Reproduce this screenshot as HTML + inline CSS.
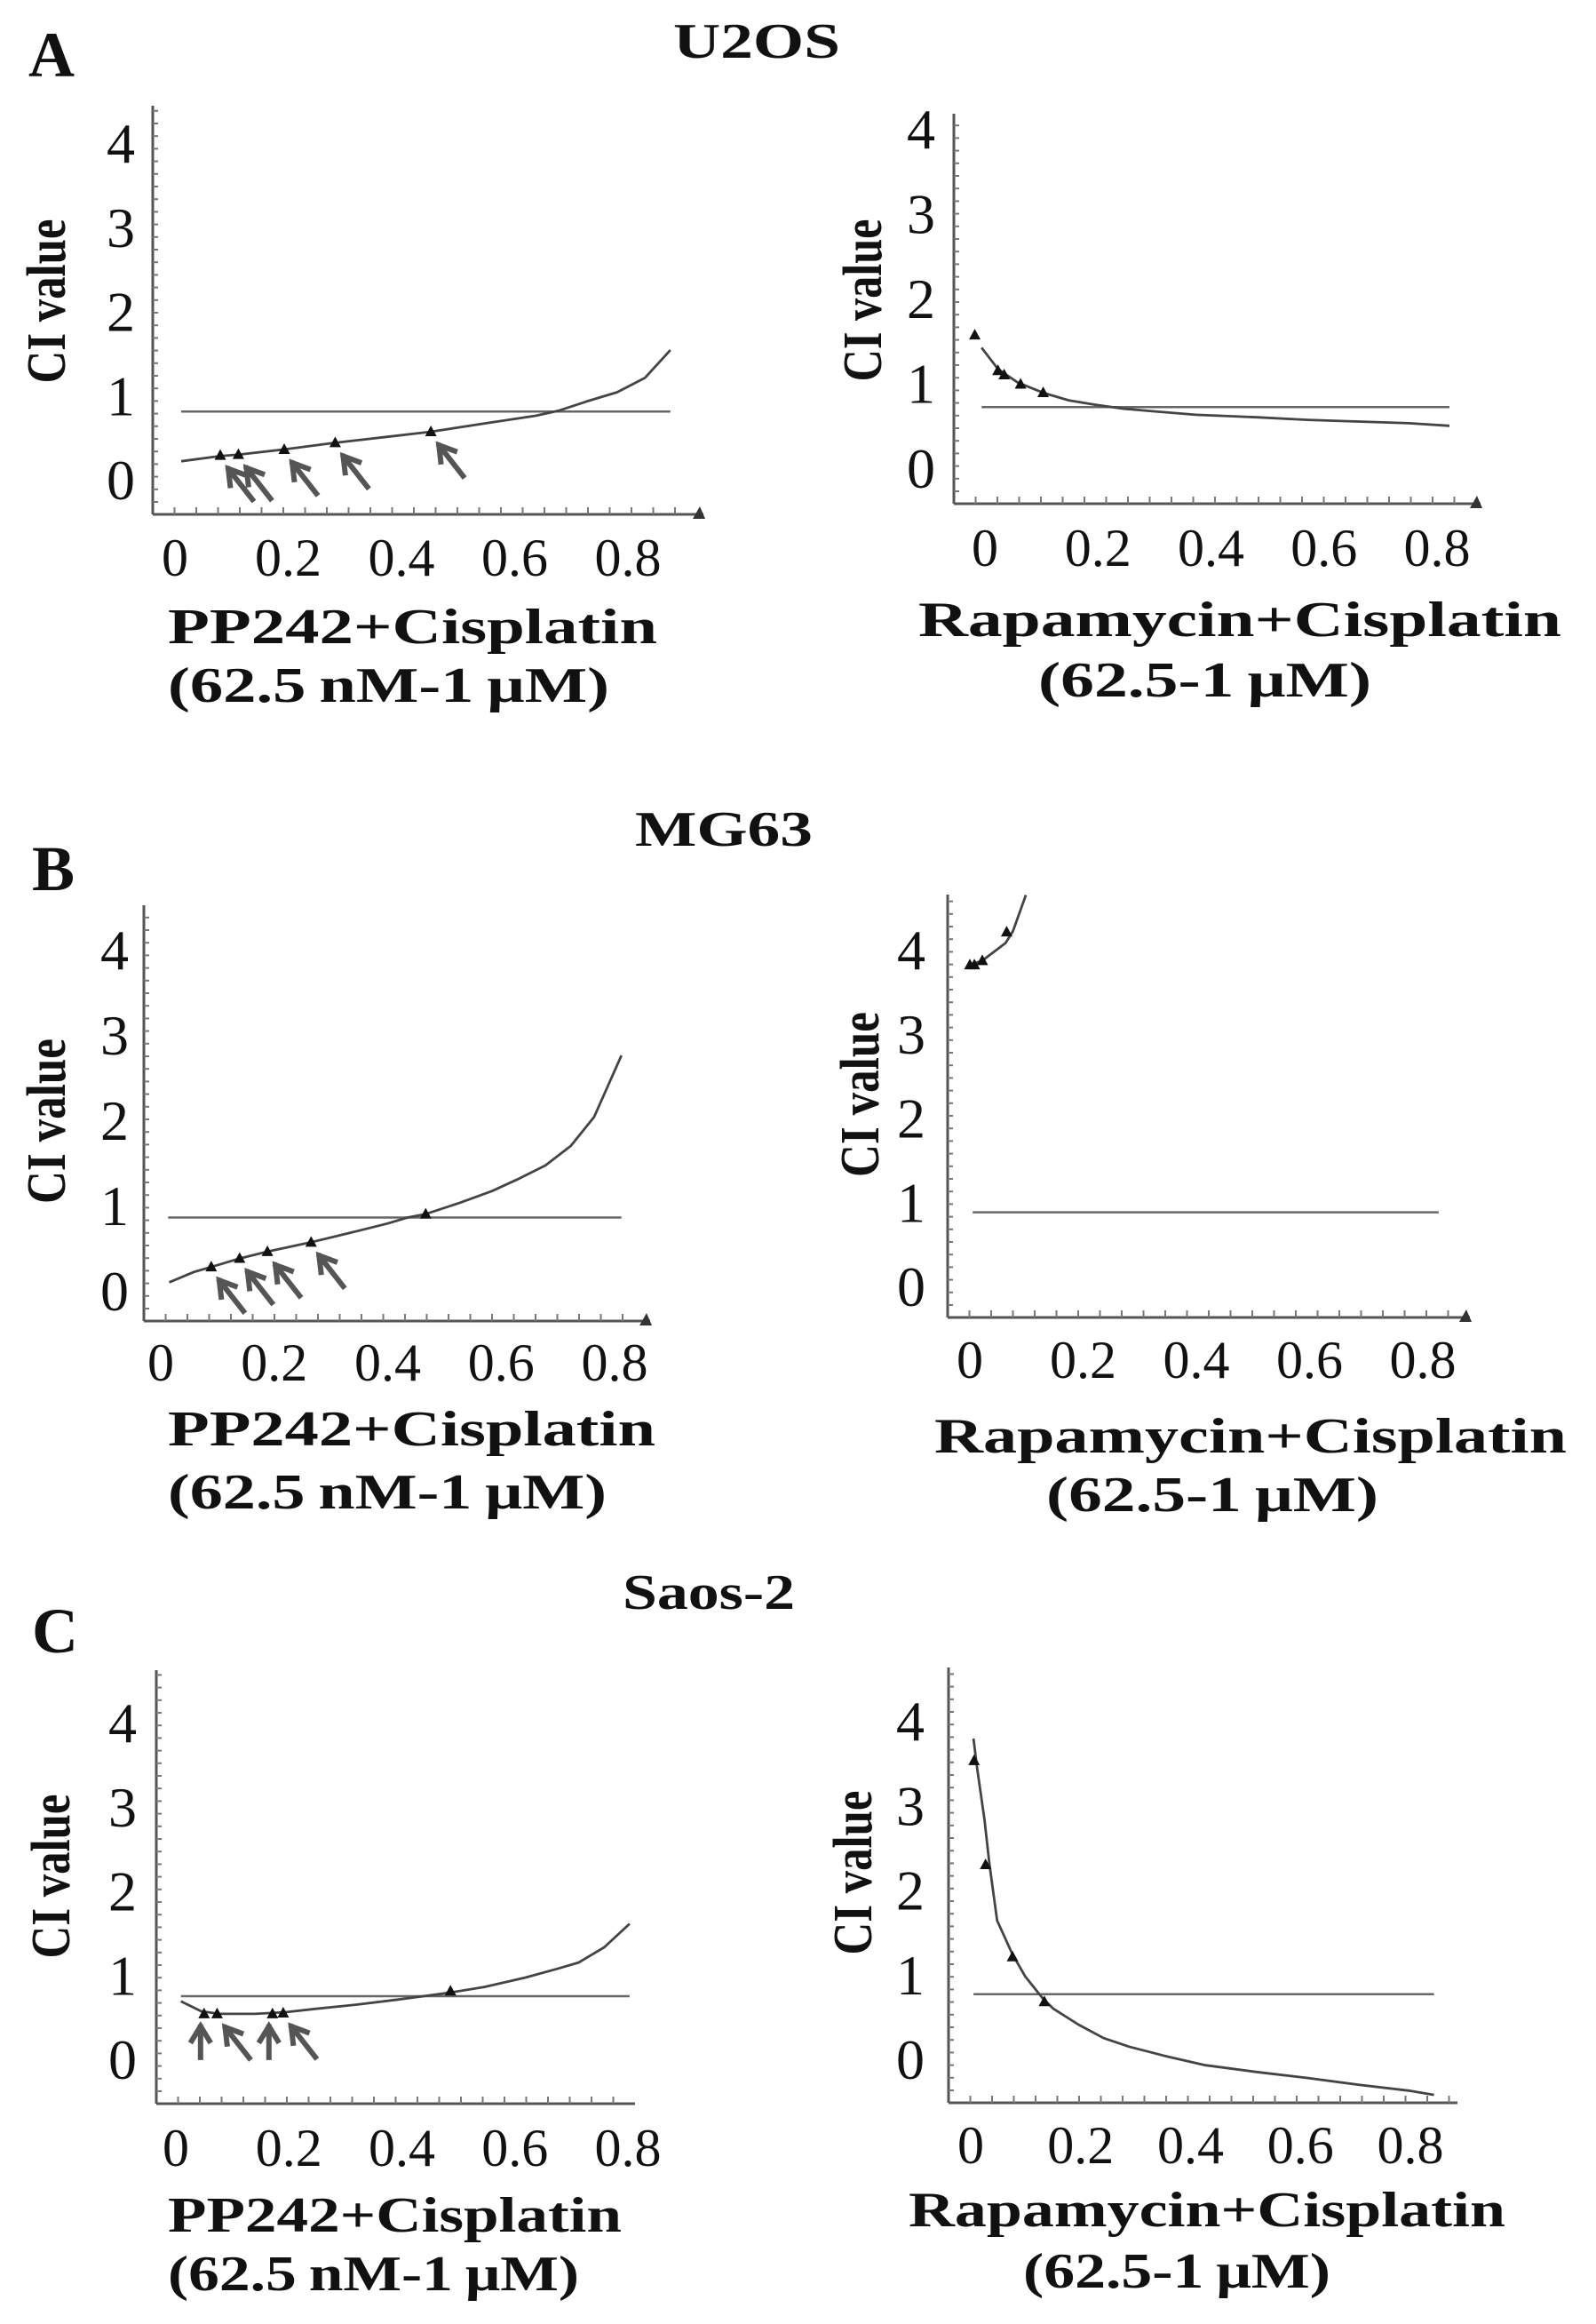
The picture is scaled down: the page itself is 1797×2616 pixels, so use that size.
<!DOCTYPE html>
<html><head><meta charset="utf-8"><style>
html,body{margin:0;padding:0;background:#fff}
svg{display:block}
</style></head><body>
<svg id="fig" width="1797" height="2616" viewBox="0 0 1797 2616" xmlns="http://www.w3.org/2000/svg">
<g font-family="Liberation Serif, serif" font-weight="bold" fill="#111">
<text x="32" y="86" font-size="72">A</text>
<text x="758" y="65" font-size="56" textLength="188" lengthAdjust="spacingAndGlyphs">U2OS</text>
<text x="36" y="1002" font-size="72">B</text>
<text x="715" y="952" font-size="56" textLength="200" lengthAdjust="spacingAndGlyphs">MG63</text>
<text x="36" y="1860" font-size="72">C</text>
<text x="701" y="1811" font-size="56" textLength="194" lengthAdjust="spacingAndGlyphs">Saos-2</text>
</g>
</svg>
<script>
// ---- data (CI vs Fa) ----
const aLeftX = [0.011,0.078,0.114,0.193,0.283,0.375,0.452,0.547,0.637,0.677,0.727,0.781,0.83,0.875];
const aLeftY = [0.23,0.29,0.31,0.37,0.45,0.52,0.58,0.68,0.77,0.83,0.94,1.05,1.22,1.55];
const aLeftPtX = [0.08,0.112,0.193,0.283,0.452];
const aLeftPtY = [0.30,0.31,0.37,0.45,0.58];
const aLeftRef = 0.82;

const aRightX = [-0.006,0.023,0.058,0.103,0.148,0.193,0.247,0.301,0.373,0.481,0.571,0.661,0.75,0.822];
const aRightY = [1.43,1.18,1.02,0.90,0.81,0.76,0.71,0.68,0.64,0.61,0.58,0.56,0.54,0.51];
const aRightPtX = [-0.018,0.023,0.034,0.063,0.103];
const aRightPtY = [1.58,1.16,1.11,1.0,0.90];
const aRightRef = 0.73;

const bLeftX = [0.015,0.058,0.089,0.139,0.188,0.265,0.346,0.40,0.435,0.467,0.526,0.584,0.633,0.678,0.723,0.764,0.812];
const bLeftY = [0.11,0.23,0.29,0.39,0.47,0.58,0.71,0.80,0.87,0.91,1.04,1.18,1.33,1.48,1.71,2.05,2.77];
const bLeftPtX = [0.089,0.139,0.188,0.265,0.467];
const bLeftPtY = [0.29,0.39,0.47,0.58,0.91];
const bLeftRef = 0.87;

const bRightX = [0.0,0.022,0.063,0.076,0.099];
const bRightY = [3.83,3.88,4.09,4.23,4.66];
const bRightPtX = [0.0,0.008,0.022,0.065];
const bRightPtY = [3.83,3.83,3.88,4.22];
const bRightRef = 0.89;

const cLeftX = [0.009,0.045,0.077,0.14,0.194,0.248,0.32,0.393,0.438,0.483,0.546,0.618,0.672,0.713,0.758,0.803];
const cLeftY = [0.70,0.58,0.55,0.55,0.57,0.61,0.66,0.72,0.76,0.80,0.87,0.98,1.08,1.16,1.34,1.62];
const cLeftPtX = [0.05,0.073,0.171,0.19,0.486];
const cLeftPtY = [0.55,0.55,0.55,0.56,0.82];
const cLeftRef = 0.76;

const cRightX = [0.005,0.011,0.025,0.034,0.048,0.076,0.099,0.131,0.15,0.196,0.242,0.288,0.353,0.427,0.52,0.612,0.705,0.797,0.843];
const cRightY = [3.80,3.48,2.84,2.32,1.65,1.25,0.99,0.73,0.61,0.42,0.26,0.16,0.05,-0.06,-0.14,-0.21,-0.29,-0.36,-0.41];
const cRightPtX = [0.006,0.027,0.076,0.134];
const cRightPtY = [3.54,2.31,1.22,0.69];
const cRightRef = 0.78;

const xTickLabels = ["0","0.2","0.4","0.6","0.8"];
const xTickValues = [0,0.2,0.4,0.6,0.8];
const yTickLabels = ["0","1","2","3","4"];
const yTickValues = [0,1,2,3,4];

const NS = "http://www.w3.org/2000/svg";
const svg = document.getElementById('fig');
function mk(tag, attrs, parent){
  const e = document.createElementNS(NS, tag);
  for (const k in attrs) e.setAttribute(k, attrs[k]);
  (parent||svg).appendChild(e);
  return e;
}

const panels = [
 {id:'a-left', ax:172, top:119, bot:579, end:792, arrowEnd:true, x0:197, x8:707, y0:541, y4:162, ylx:136, xly:628,
  lineX:0.011, lineX2:0.875, cx:52, cy:339, clen:185,
  t1:'PP242+Cisplatin', t1x:189, t1w:551, t1y:724, t2:'(62.5\u2009nM-1\u2009\u03bcM)', t2x:189, t2w:497, t2y:790,
  X:aLeftX, Y:aLeftY, PX:aLeftPtX, PY:aLeftPtY, ref:aLeftRef, arrows:[0,1,2,3,4], arrowType:['nw','nw','nw','nw','nw']},
 {id:'a-right', ax:1074, top:128, bot:567, end:1667, arrowEnd:true, x0:1109, x8:1618, y0:528, y4:146, ylx:1037, xly:617,
  lineX:-0.006, lineX2:0.822, cx:971, cy:338, clen:183,
  t1:'Rapamycin+Cisplatin', t1x:1034, t1w:724, t1y:716, t2:'(62.5-1\u2009\u03bcM)', t2x:1169, t2w:375, t2y:784,
  X:aRightX, Y:aRightY, PX:aRightPtX, PY:aRightPtY, ref:aRightRef, arrows:[], arrowType:[]},
 {id:'b-left', ax:162, top:1019, bot:1487, end:732, arrowEnd:true, x0:181, x8:692, y0:1454, y4:1070, ylx:129, xly:1534,
  lineX:0.013, lineX2:0.812, cx:52, cy:1262, clen:186,
  t1:'PP242+Cisplatin', t1x:189, t1w:549, t1y:1627, t2:'(62.5\u2009nM-1\u2009\u03bcM)', t2x:189, t2w:494, t2y:1698,
  X:bLeftX, Y:bLeftY, PX:bLeftPtX, PY:bLeftPtY, ref:bLeftRef, arrows:[0,1,2,3], arrowType:['nw','nw','nw','nw']},
 {id:'b-right', ax:1067, top:1007, bot:1483, end:1655, arrowEnd:true, x0:1092, x8:1602, y0:1449, y4:1070, ylx:1026, xly:1531,
  lineX:0.005, lineX2:0.828, cx:968, cy:1232, clen:186,
  t1:'Rapamycin+Cisplatin', t1x:1052, t1w:712, t1y:1635, t2:'(62.5-1\u2009\u03bcM)', t2x:1178, t2w:374, t2y:1701,
  X:bRightX, Y:bRightY, PX:bRightPtX, PY:bRightPtY, ref:bRightRef, arrows:[], arrowType:[]},
 {id:'c-left', ax:176, top:1880, bot:2368, end:715, arrowEnd:false, x0:198, x8:707, y0:2319, y4:1940, ylx:138, xly:2418,
  lineX:0.009, lineX2:0.803, cx:57, cy:2112, clen:185,
  t1:'PP242+Cisplatin', t1x:189, t1w:511, t1y:2512, t2:'(62.5\u2009nM-1\u2009\u03bcM)', t2x:189, t2w:463, t2y:2578,
  X:cLeftX, Y:cLeftY, PX:cLeftPtX, PY:cLeftPtY, ref:cLeftRef, arrows:[0,1,2,3], arrowType:['up','nw','up','nw']},
 {id:'c-right', ax:1068, top:1877, bot:2367, end:1641, arrowEnd:false, x0:1093, x8:1588, y0:2319, y4:1938, ylx:1025, xly:2415,
  lineX:0.005, lineX2:0.843, cx:960, cy:2108, clen:185,
  t1:'Rapamycin+Cisplatin', t1x:1023, t1w:672, t1y:2506, t2:'(62.5-1\u2009\u03bcM)', t2x:1152, t2w:346, t2y:2575,
  X:cRightX, Y:cRightY, PX:cRightPtX, PY:cRightPtY, ref:cRightRef, arrows:[], arrowType:[]}
];

panels.forEach(p => {
  const g = mk('g', {});
  
  
  const sx = v => p.x0 + v * (p.x8 - p.x0) / 0.8;
  const sy = v => p.y0 - v * (p.y0 - p.y4) / 4;

  const axes = mk('g', {stroke:'#555', 'stroke-width':3, fill:'none'}, g);
  
  
  mk('line', {x1:p.ax, y1:p.top, x2:p.ax, y2:p.bot}, axes);
  mk('line', {x1:p.ax, y1:p.bot, x2:p.end, y2:p.bot}, axes);
  const tk = mk('g', {stroke:'#777', 'stroke-width':2}, g);
  
  
  for (let y = p.bot - 14; y > p.top + 4; y -= 14.2) mk('line', {x1:p.ax, y1:y, x2:p.ax + 6, y2:y}, tk);
  for (let x = p.ax + 24.5; x < p.end - 8; x += 24.5) mk('line', {x1:x, y1:p.bot, x2:x, y2:p.bot - 8}, tk);
  if (p.arrowEnd) {
    const ah = mk('path', {d:`M${p.end-12},${p.bot+5} L${p.end+2},${p.bot+5} L${p.end-4},${p.bot-9} Z`, fill:'#333'}, g);
    
    
  }

  xTickValues.forEach((v, i) => {
    const t = mk('text', {x:sx(v), y:p.xly + 20, 'text-anchor':'middle', 'font-family':'Liberation Serif, serif', 'font-size':60, fill:'#111'}, g);
    t.textContent = xTickLabels[i];
    
    
  });
  yTickValues.forEach((v, i) => {
    const t = mk('text', {x:p.ylx, y:sy(v) + 21, 'text-anchor':'middle', 'font-family':'Liberation Serif, serif', 'font-size':64, fill:'#111'}, g);
    t.textContent = yTickLabels[i];
    
    
  });

  const yt = mk('text', {x:0, y:0, transform:`translate(${p.cx + 21},${p.cy}) rotate(-90)`, 'text-anchor':'middle', 'font-family':'Liberation Serif, serif', 'font-weight':'bold', 'font-size':62, textLength:p.clen, lengthAdjust:'spacingAndGlyphs', fill:'#111'}, g);
  yt.textContent = 'CI value';
  
  

  const x1 = mk('text', {x:p.t1x, y:p.t1y, 'font-family':'Liberation Serif, serif', 'font-weight':'bold', 'font-size':56, textLength:p.t1w, lengthAdjust:'spacingAndGlyphs', fill:'#111'}, g);
  x1.textContent = p.t1;
  
  
  const x2 = mk('text', {x:p.t2x, y:p.t2y, 'font-family':'Liberation Serif, serif', 'font-weight':'bold', 'font-size':56, textLength:p.t2w, lengthAdjust:'spacingAndGlyphs', fill:'#111'}, g);
  x2.textContent = p.t2;
  
  

  const rl = mk('line', {x1:sx(p.lineX), x2:sx(p.lineX2), y1:sy(p.ref), y2:sy(p.ref), stroke:'#666', 'stroke-width':2.5}, g);
  
  

  let d = '';
  p.X.forEach((v, i) => { d += (i ? 'L' : 'M') + sx(v).toFixed(1) + ',' + sy(p.Y[i]).toFixed(1); });
  const clipId = 'clip-' + p.id;
  const cp = mk('clipPath', {id:clipId}, g);
  mk('rect', {x:p.ax, y:p.top, width:p.end - p.ax, height:p.bot - p.top}, cp);
  const cv = mk('path', {d:d, fill:'none', stroke:'#444', 'stroke-width':2.8, 'stroke-linejoin':'round', 'clip-path':`url(#${clipId})`}, g);
  
  

  p.PX.forEach((v, i) => {
    const x = sx(v), y = sy(p.PY[i]);
    const m = mk('path', {d:`M${x-6.5},${y+5} L${x+6.5},${y+5} L${x},${y-7} Z`, fill:'#111'}, g);
    
    
  });

  p.arrows.forEach((idx, k) => {
    const x = sx(p.PX[idx]), y = sy(p.PY[idx]);
    let hx, hy, tx, ty;
    if (p.arrowType[k] === 'up') { hx = x - 4; hy = y + 14; tx = x - 4; ty = y + 52; }
    else { hx = x + 9; hy = y + 15; tx = x + 38; ty = y + 52; }
    const ang = Math.atan2(hy - ty, hx - tx);
    const L = 22, W = 0.55;
    const ax1 = hx - L * Math.cos(ang - W), ay1 = hy - L * Math.sin(ang - W);
    const ax2 = hx - L * Math.cos(ang + W), ay2 = hy - L * Math.sin(ang + W);
    const ar = mk('g', {stroke:'#555', 'stroke-width':6, fill:'none', 'stroke-linecap':'butt', 'stroke-linejoin':'miter'}, g);
    
    
    mk('line', {x1:tx, y1:ty, x2:hx + 2 * Math.cos(ang), y2:hy + 2 * Math.sin(ang)}, ar);
    mk('polyline', {points:`${ax1},${ay1} ${hx},${hy} ${ax2},${ay2}`}, ar);
  });
});
</script>
</body></html>
